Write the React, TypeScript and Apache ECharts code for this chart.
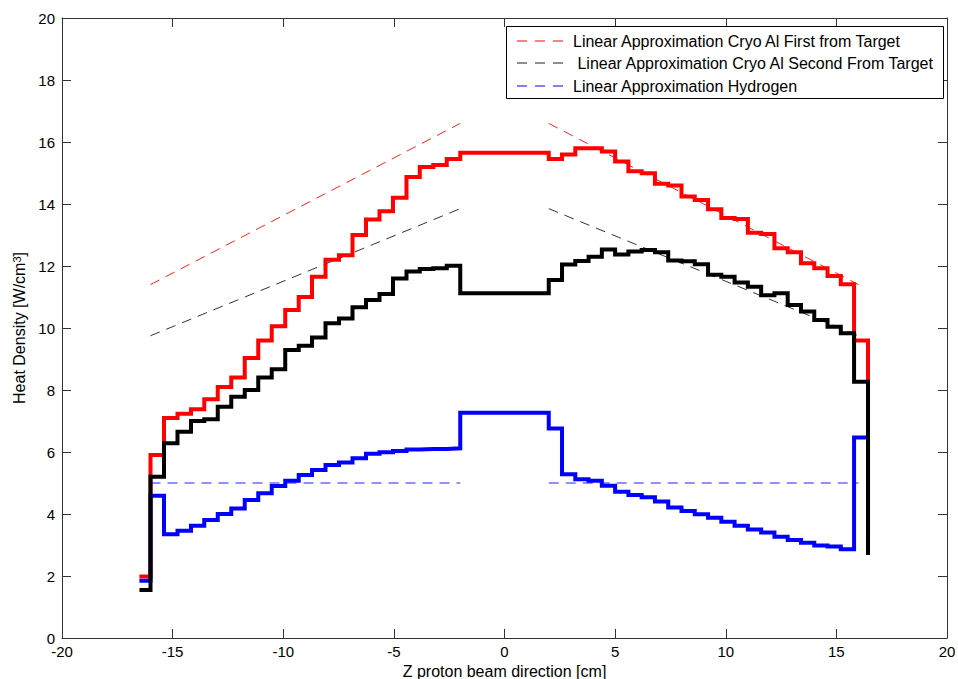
import React, { useEffect, useRef } from "react";
import * as echarts from "echarts";

// Bin edges along Z (cm)
const binEdges = [
  -16.5, -16.0, -15.39, -14.78, -14.17, -13.57, -12.96, -12.35, -11.74, -11.13,
  -10.52, -9.91, -9.3, -8.7, -8.09, -7.48, -6.87, -6.26, -5.65, -5.04, -4.43,
  -3.83, -3.22, -2.61, -2.0, 2.0, 2.6, 3.2, 3.8, 4.4, 5.0, 5.6, 6.2, 6.8, 7.4,
  8.0, 8.6, 9.2, 9.8, 10.4, 11.0, 11.6, 12.2, 12.8, 13.4, 14.0, 14.6, 15.2, 15.8,
  16.43,
];

// Heat density per bin (W/cm^3)
const redValues = [
  1.98, 5.9, 7.1, 7.23, 7.38, 7.7, 8.1, 8.4, 9.03, 9.6, 10.06, 10.58, 11.0, 11.65,
  12.2, 12.35, 13.0, 13.5, 13.77, 14.2, 14.87, 15.19, 15.26, 15.45,
  15.65,
  15.45, 15.6, 15.8, 15.8, 15.69, 15.37, 15.06, 14.99, 14.65, 14.6, 14.24, 14.13,
  13.83, 13.55, 13.52, 13.07, 13.03, 12.57, 12.44, 12.09, 11.93, 11.68, 11.41, 9.6,
];
const blackValues = [
  1.55, 5.2, 6.28, 6.65, 7.0, 7.06, 7.46, 7.78, 8.0, 8.4, 8.67, 9.29, 9.43, 9.69,
  10.15, 10.31, 10.67, 10.9, 11.1, 11.6, 11.82, 11.9, 11.93, 12.01,
  11.12,
  11.55, 12.05, 12.16, 12.3, 12.53, 12.37, 12.47, 12.52, 12.44, 12.18, 12.15, 12.06,
  11.72, 11.65, 11.47, 11.33, 11.06, 11.12, 10.74, 10.53, 10.26, 10.04, 9.83, 8.27,
];
const blueValues = [
  1.85, 4.59, 3.35, 3.46, 3.62, 3.81, 4.0, 4.18, 4.45, 4.67, 4.9, 5.07, 5.26, 5.42,
  5.58, 5.66, 5.8, 5.94, 5.99, 6.03, 6.08, 6.1, 6.1, 6.12,
  7.27,
  6.76, 5.28, 5.12, 5.07, 4.91, 4.72, 4.61, 4.54, 4.4, 4.21, 4.1, 3.99, 3.88, 3.75,
  3.62, 3.5, 3.4, 3.27, 3.16, 3.07, 2.98, 2.95, 2.86, 6.47,
];
// value reached at the final edge
const endValues = { red: 2.68, black: 2.68, blue: 2.68 };

// Linear approximations: [z, value] end points
const redApproxLeft = [[-16, 11.4], [-2, 16.6]];
const redApproxRight = [[2, 16.6], [16, 11.4]];
const blackApproxLeft = [[-16, 9.75], [-2, 13.85]];
const blackApproxRight = [[2, 13.85], [16, 9.75]];
const blueApproxLeft = [[-16, 5], [-2, 5]];
const blueApproxRight = [[2, 5], [16, 5]];

const legendNames = [
  "Linear Approximation Cryo Al First from Target",
  " Linear Approximation Cryo Al Second From Target",
  "Linear Approximation Hydrogen",
];

const xTicks = [-20, -15, -10, -5, 0, 5, 10, 15, 20];
const yTicks = [0, 2, 4, 6, 8, 10, 12, 14, 16, 18, 20];

function stairs(edges: number[], vals: number[], endVal: number) {
  const pts: number[][] = [];
  for (let i = 0; i < vals.length; i++) {
    pts.push([edges[i], vals[i]]);
    pts.push([edges[i + 1], vals[i]]);
  }
  pts.push([edges[edges.length - 1], endVal]);
  return pts;
}

const FONT = '"Liberation Sans", Arial, Helvetica, sans-serif';

export default function App() {
  const ref = useRef<HTMLDivElement>(null);
  useEffect(() => {
    if (!ref.current) return;
    const chart = echarts.init(ref.current, null, { renderer: "svg" });
    const axisColor = "#333";
    const dashed = (name: string, data: number[][], color: string) => ({
      name,
      type: "line",
      data,
      showSymbol: false,
      symbol: "none",
      lineStyle: { color, width: 1, type: [10, 7] },
      z: 3,
    });
    const solid = (name: string, data: number[][], color: string, z: number) => ({
      name,
      type: "line",
      data,
      showSymbol: false,
      symbol: "none",
      lineStyle: { color, width: 4, join: "miter", cap: "butt" },
      z,
    });
    const legendY = [41, 63, 86];
    const legendColors = ["#ff0000", "#222222", "#0000ff"];
    const legendTextX = [573, 573, 573];
    const option: any = {
      animation: false,
      backgroundColor: "#ffffff",
      grid: {
        left: 62,
        right: 11,
        top: 18,
        bottom: 41,
        containLabel: false,
        outerBoundsMode: "none",
      },
      xAxis: [
        {
          type: "value",
          min: xTicks[0],
          max: xTicks[xTicks.length - 1],
          interval: 5,
          name: "Z proton beam direction [cm]",
          nameLocation: "middle",
          nameGap: 23,
          nameTextStyle: { fontFamily: FONT, fontSize: 16, color: "#000" },
          axisLine: { show: true, onZero: false, lineStyle: { color: axisColor, width: 1 } },
          axisTick: { show: true, inside: true, length: 9, lineStyle: { color: axisColor } },
          axisLabel: { fontFamily: FONT, fontSize: 15, color: "#000", margin: 6 },
          splitLine: { show: false },
        },
        {
          type: "value",
          position: "top",
          min: xTicks[0],
          max: xTicks[xTicks.length - 1],
          interval: 5,
          axisLine: { show: true, onZero: false, lineStyle: { color: axisColor, width: 1 } },
          axisTick: { show: true, inside: true, length: 9, lineStyle: { color: axisColor } },
          axisLabel: { show: false },
          splitLine: { show: false },
        },
      ],
      yAxis: [
        {
          type: "value",
          min: yTicks[0],
          max: yTicks[yTicks.length - 1],
          interval: 2,
          name: "Heat Density [W/cm{sup|3}]",
          nameLocation: "middle",
          nameGap: 32,
          nameRotate: 90,
          nameTextStyle: {
            fontFamily: FONT,
            fontSize: 16,
            color: "#000",
            rich: {
              sup: { fontFamily: FONT, fontSize: 11, color: "#000", verticalAlign: "top", lineHeight: 12 },
            },
          },
          axisLine: { show: true, onZero: false, lineStyle: { color: axisColor, width: 1 } },
          axisTick: { show: true, inside: true, length: 9, lineStyle: { color: axisColor } },
          axisLabel: { fontFamily: FONT, fontSize: 15, color: "#000", margin: 7 },
          splitLine: { show: false },
        },
        {
          type: "value",
          position: "right",
          min: yTicks[0],
          max: yTicks[yTicks.length - 1],
          interval: 2,
          axisLine: { show: true, onZero: false, lineStyle: { color: axisColor, width: 1 } },
          axisTick: { show: true, inside: true, length: 9, lineStyle: { color: axisColor } },
          axisLabel: { show: false },
          splitLine: { show: false },
        },
      ],
      series: [
        solid("Cryo Al First from Target", stairs(binEdges, redValues, endValues.red), "#ff0000", 4),
        solid("Hydrogen", stairs(binEdges, blueValues, endValues.blue), "#0000ff", 5),
        solid("Cryo Al Second From Target", stairs(binEdges, blackValues, endValues.black), "#000000", 6),
        dashed(legendNames[0], redApproxLeft, "#ff2020"),
        dashed(legendNames[0] + " R", redApproxRight, "#ff2020"),
        dashed(legendNames[1], blackApproxLeft, "#333333"),
        dashed(legendNames[1] + " R", blackApproxRight, "#333333"),
        dashed(legendNames[2], blueApproxLeft, "#2020ff"),
        dashed(legendNames[2] + " R", blueApproxRight, "#2020ff"),
      ],
      graphic: [
        {
          type: "rect",
          shape: { x: 506.5, y: 26.5, width: 437, height: 72 },
          style: { fill: "#fff", stroke: "#000", lineWidth: 1 },
          z: 100,
        },
        ...legendNames.map((t, i) => ({
          type: "line",
          shape: { x1: 517, y1: legendY[i], x2: 567, y2: legendY[i] },
          style: { stroke: legendColors[i], lineWidth: 1, lineDash: [10, 8] },
          z: 101,
        })),
        ...legendNames.map((t, i) => ({
          type: "text",
          x: legendTextX[i],
          y: legendY[i],
          style: {
            text: t,
            fill: "#000",
            font: `16px ${FONT}`,
            verticalAlign: "middle",
            align: "left",
          },
          z: 101,
        })),
      ],
    };
    chart.setOption(option);
    return () => chart.dispose();
  }, []);
  return (
    <div
      ref={ref}
      style={{ position: "fixed", left: 0, top: 0, width: 958, height: 679, background: "#fff" }}
    />
  );
}
